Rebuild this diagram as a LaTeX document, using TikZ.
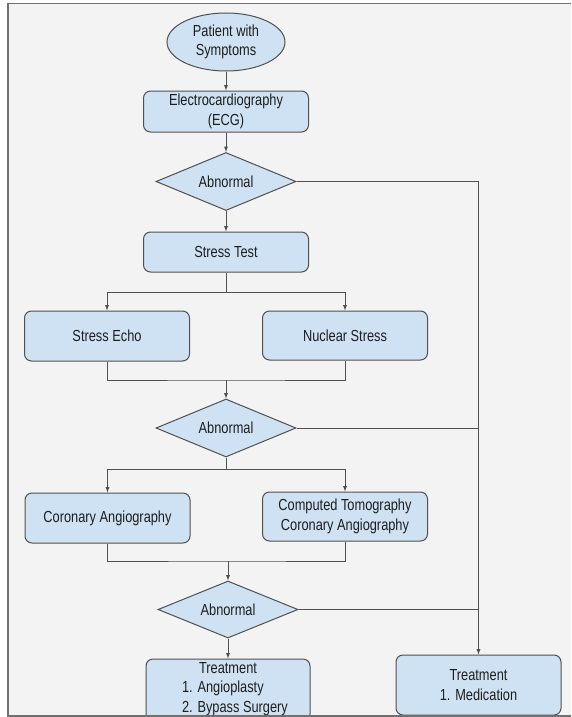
\documentclass[tikz,border=0pt]{standalone}
\usepackage{fontspec}
\setmainfont{Liberation Sans}[FakeStretch=0.8]
\usepackage{tikz}
\usetikzlibrary{arrows,shapes.geometric}
\definecolor{boxblue}{HTML}{CFE2F3}
\definecolor{linegray}{HTML}{505050}
\definecolor{bggray}{HTML}{F3F3F3}
\definecolor{framegray}{HTML}{707070}
\definecolor{txtgray}{HTML}{1E1E1E}

\begin{document}
\begin{tikzpicture}[x=1pt,y=-1pt,>=latex,
    every node/.style={font=\fontsize{16}{19.5}\selectfont,text=txtgray,align=center},
    stepbox/.style={draw=linegray,fill=boxblue,line width=1pt,rounded corners=7pt,inner sep=0pt,minimum width=165pt},
    askbox/.style={diamond,draw=linegray,fill=boxblue,line width=1pt,aspect=2.4,inner sep=0pt,minimum width=140pt,minimum height=58pt},
    link/.style={draw=linegray,line width=0.9pt}]
    \clip (0,0) rectangle (571,717);
    \fill[white] (0,0) rectangle (571,717);
    \fill[bggray] (8,3) rectangle (571,716);

    \node[ellipse,draw=linegray,fill=boxblue,line width=1pt,inner sep=0pt,minimum width=118pt,minimum height=58pt] (patient) at (226,42) {Patient with\\Symptoms};
    \node[stepbox,minimum height=41pt] (ecg) at (226,111.5) {Electrocardiography\\(ECG)};
    \node[askbox] (abn1) at (226,181.5) {Abnormal};
    \node[stepbox,minimum height=40pt] (stress) at (226,252) {Stress Test};
    \node[stepbox,minimum height=50pt] (echo) at (107,336) {Stress Echo};
    \node[stepbox,minimum height=49pt] (nuclear) at (345,335.5) {Nuclear Stress};
    \node[askbox] (abn2) at (226,428) {Abnormal};
    \node[stepbox,minimum height=50pt] (coro) at (107.5,518) {Coronary Angiography};
    \node[stepbox,minimum height=49pt] (ctca) at (345,516.5) {Computed Tomography\\Coronary Angiography};
    \node[askbox,minimum height=57pt] (abn3) at (228,609.5) {Abnormal};
    \node[stepbox,minimum width=164pt,minimum height=62pt] (surg) at (228,690) {Treatment\\\hspace*{14pt}\begin{tabular}[t]{@{}l@{}}1. Angioplasty\\2. Bypass Surgery\end{tabular}};
    \node[stepbox,minimum height=60pt] (med) at (478.5,685) {Treatment\\1. Medication};

    \coordinate (split1) at (226,292);
    \coordinate (join1) at (226,380);
    \coordinate (split2) at (226,469);
    \coordinate (join2) at (228,561);

    \path[link,->] (patient) -- (ecg);
    \path[link,->] (ecg) -- (abn1);
    \path[link,->] (abn1) -- (stress);
    \path[link] (stress) -- (split1);
    \path[link,->] (split1) -| (echo.north);
    \path[link,->] (split1) -| (nuclear.north);
    \path[link] (echo.south) |- (join1) -| (nuclear.south);
    \path[link,->] (join1) -- (abn2);
    \path[link] (abn2) -- (split2);
    \path[link,->] (split2) -| (coro.north);
    \path[link,->] (split2) -| (ctca.north);
    \path[link] (coro.south) |- (join2) -| (ctca.south);
    \path[link,->] (join2) -- (abn3);
    \path[link,->] (abn3) -- (surg);
    \path[link,->] (abn1.east) -| (med.north);
    \path[link] (abn2.east) -- (abn2.east -| med.north);
    \path[link] (abn3.east) -- (abn3.east -| med.north);

    \draw[framegray,line width=1.6pt] (571,3.5) -- (8,3.5) -- (8,716) -- (571,716);
\end{tikzpicture}
\end{document}
